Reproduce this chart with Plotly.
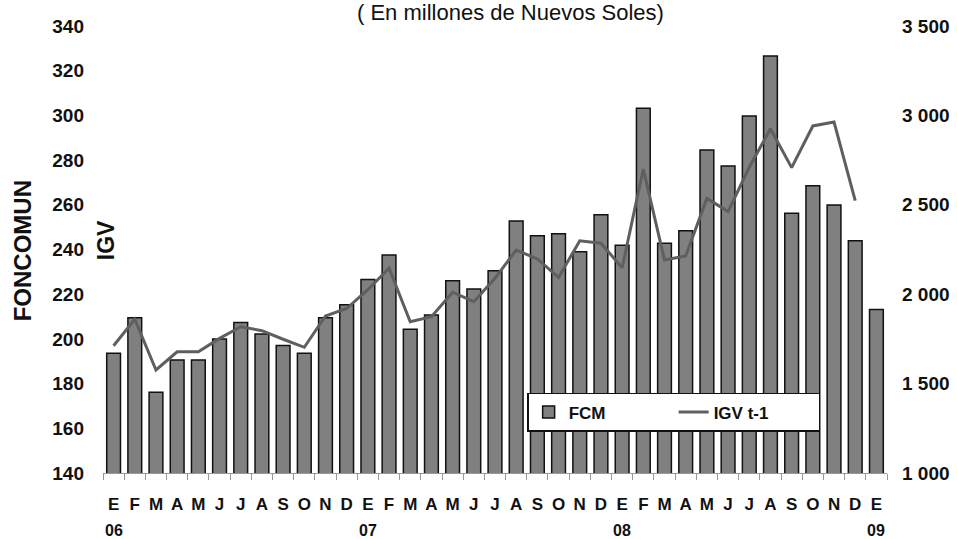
import plotly.graph_objects as go

categories = ["E06","F06","M06","A06","MY06","J06","JL06","AG06","S06","O06","N06","D06",
              "E07","F07","M07","A07","MY07","J07","JL07","AG07","S07","O07","N07","D07",
              "E08","F08","M08","A08","MY08","J08","JL08","AG08","S08","O08","N08","D08",
              "E09"]
month_letters = ["E","F","M","A","M","J","J","A","S","O","N","D",
                 "E","F","M","A","M","J","J","A","S","O","N","D",
                 "E","F","M","A","M","J","J","A","S","O","N","D",
                 "E"]
fcm = [193.6, 209.5, 176.1, 190.6, 190.6, 200.0, 207.3, 202.2, 197.0, 193.6, 209.5, 215.3,
       226.6, 237.5, 204.3, 210.7, 226.0, 222.3, 230.5, 252.8, 246.2, 247.1, 239.0, 255.6,
       241.9, 303.2, 242.8, 248.4, 284.5, 277.4, 299.7, 326.6, 256.2, 268.5, 259.9, 243.9,
       213.1]
igv = [1712, 1860, 1576, 1678, 1678, 1753, 1818, 1796, 1748, 1703, 1878, 1920,
       2025, 2145, 1846, 1874, 2011, 1958, 2089, 2247, 2197, 2094, 2299, 2285,
       2148, 2700, 2191, 2214, 2536, 2462, 2710, 2925, 2708, 2941, 2963, 2523,
       None]
year_labels = {"E06": "06", "E07": "07", "E08": "08", "E09": "09"}
left_ticks = [140, 160, 180, 200, 220, 240, 260, 280, 300, 320, 340]
right_ticks = [1000, 1500, 2000, 2500, 3000, 3500]
right_ticktext = ["1 000", "1 500", "2 000", "2 500", "3 000", "3 500"]

FONT = "Liberation Sans, Arial, sans-serif"

fig = go.Figure()
fig.add_trace(go.Bar(x=categories, y=fcm, name="<b>FCM</b>",
                     marker=dict(color="#808080", line=dict(color="#111111", width=1.5)),
                     yaxis="y"))
fig.add_trace(go.Scatter(x=categories, y=igv, name="<b>IGV t-1</b>", mode="lines",
                         line=dict(color="#5f5f5f", width=3),
                         yaxis="y2"))

annotations = [
    dict(text="( En millones de Nuevos Soles)", x=0.52, y=1.03, xref="paper", yref="paper",
         xanchor="center", yanchor="middle", showarrow=False,
         font=dict(family=FONT, size=22, color="#111111")),
    dict(text="<b>FONCOMUN</b>", x=-0.1027, y=0.497, xref="paper", yref="paper",
         xanchor="center", yanchor="middle", showarrow=False, textangle=-90,
         font=dict(family=FONT, size=24, color="#111111")),
    dict(text="<b>IGV</b>", x=0.004, y=0.521, xref="paper", yref="paper",
         xanchor="center", yanchor="middle", showarrow=False, textangle=-90,
         font=dict(family=FONT, size=23, color="#111111")),
]
for cat, lab in year_labels.items():
    annotations.append(dict(text="<b>%s</b>" % lab, x=cat, y=-0.128, xref="x", yref="paper",
                            xanchor="center", yanchor="middle", showarrow=False,
                            font=dict(family=FONT, size=16, color="#111111")))

fig.update_layout(
    width=957, height=539,
    margin=dict(l=103, r=70, t=26, b=66, autoexpand=False),
    paper_bgcolor="white", plot_bgcolor="white",
    bargap=0.35,
    showlegend=True,
    legend=dict(orientation="h", x=0.541, y=0.179, xanchor="left", yanchor="top",
                bgcolor="white", bordercolor="#111111", borderwidth=1.5,
                font=dict(family=FONT, size=17, color="#111111"),
                entrywidth=100, entrywidthmode="pixels",
                traceorder="normal", tracegroupgap=0, valign="middle"),
    xaxis=dict(type="category", tickmode="array", tickvals=categories,
               ticktext=["<b>%s</b>" % m for m in month_letters],
               tickson="boundaries", ticks="outside", ticklen=6, tickcolor="#999999",
               showline=True, linecolor="#999999", linewidth=1, tickangle=0,
               showgrid=False, tickfont=dict(family=FONT, size=17, color="#111111"),
               ticklabelstandoff=16, range=[-0.5, 36.5], automargin=False),
    yaxis=dict(range=[140, 340], tickmode="array", tickvals=left_ticks,
               ticktext=["<b>%d</b>" % v for v in left_ticks],
               showgrid=False, zeroline=False, showline=False, ticks="",
               tickfont=dict(family=FONT, size=19, color="#111111"),
               ticklabelstandoff=18, automargin=False),
    yaxis2=dict(range=[1000, 3500], overlaying="y", side="right", tickmode="array",
                tickvals=right_ticks, ticktext=["<b>%s</b>" % t for t in right_ticktext],
                showgrid=False, zeroline=False, showline=False, ticks="",
                tickfont=dict(family=FONT, size=19, color="#111111"),
                ticklabelstandoff=14, automargin=False),
    annotations=annotations,
)

fig.write_html("out.html", config={"displayModeBar": False},
               post_script="document.body.style.margin='0';document.body.style.overflow='hidden';")
